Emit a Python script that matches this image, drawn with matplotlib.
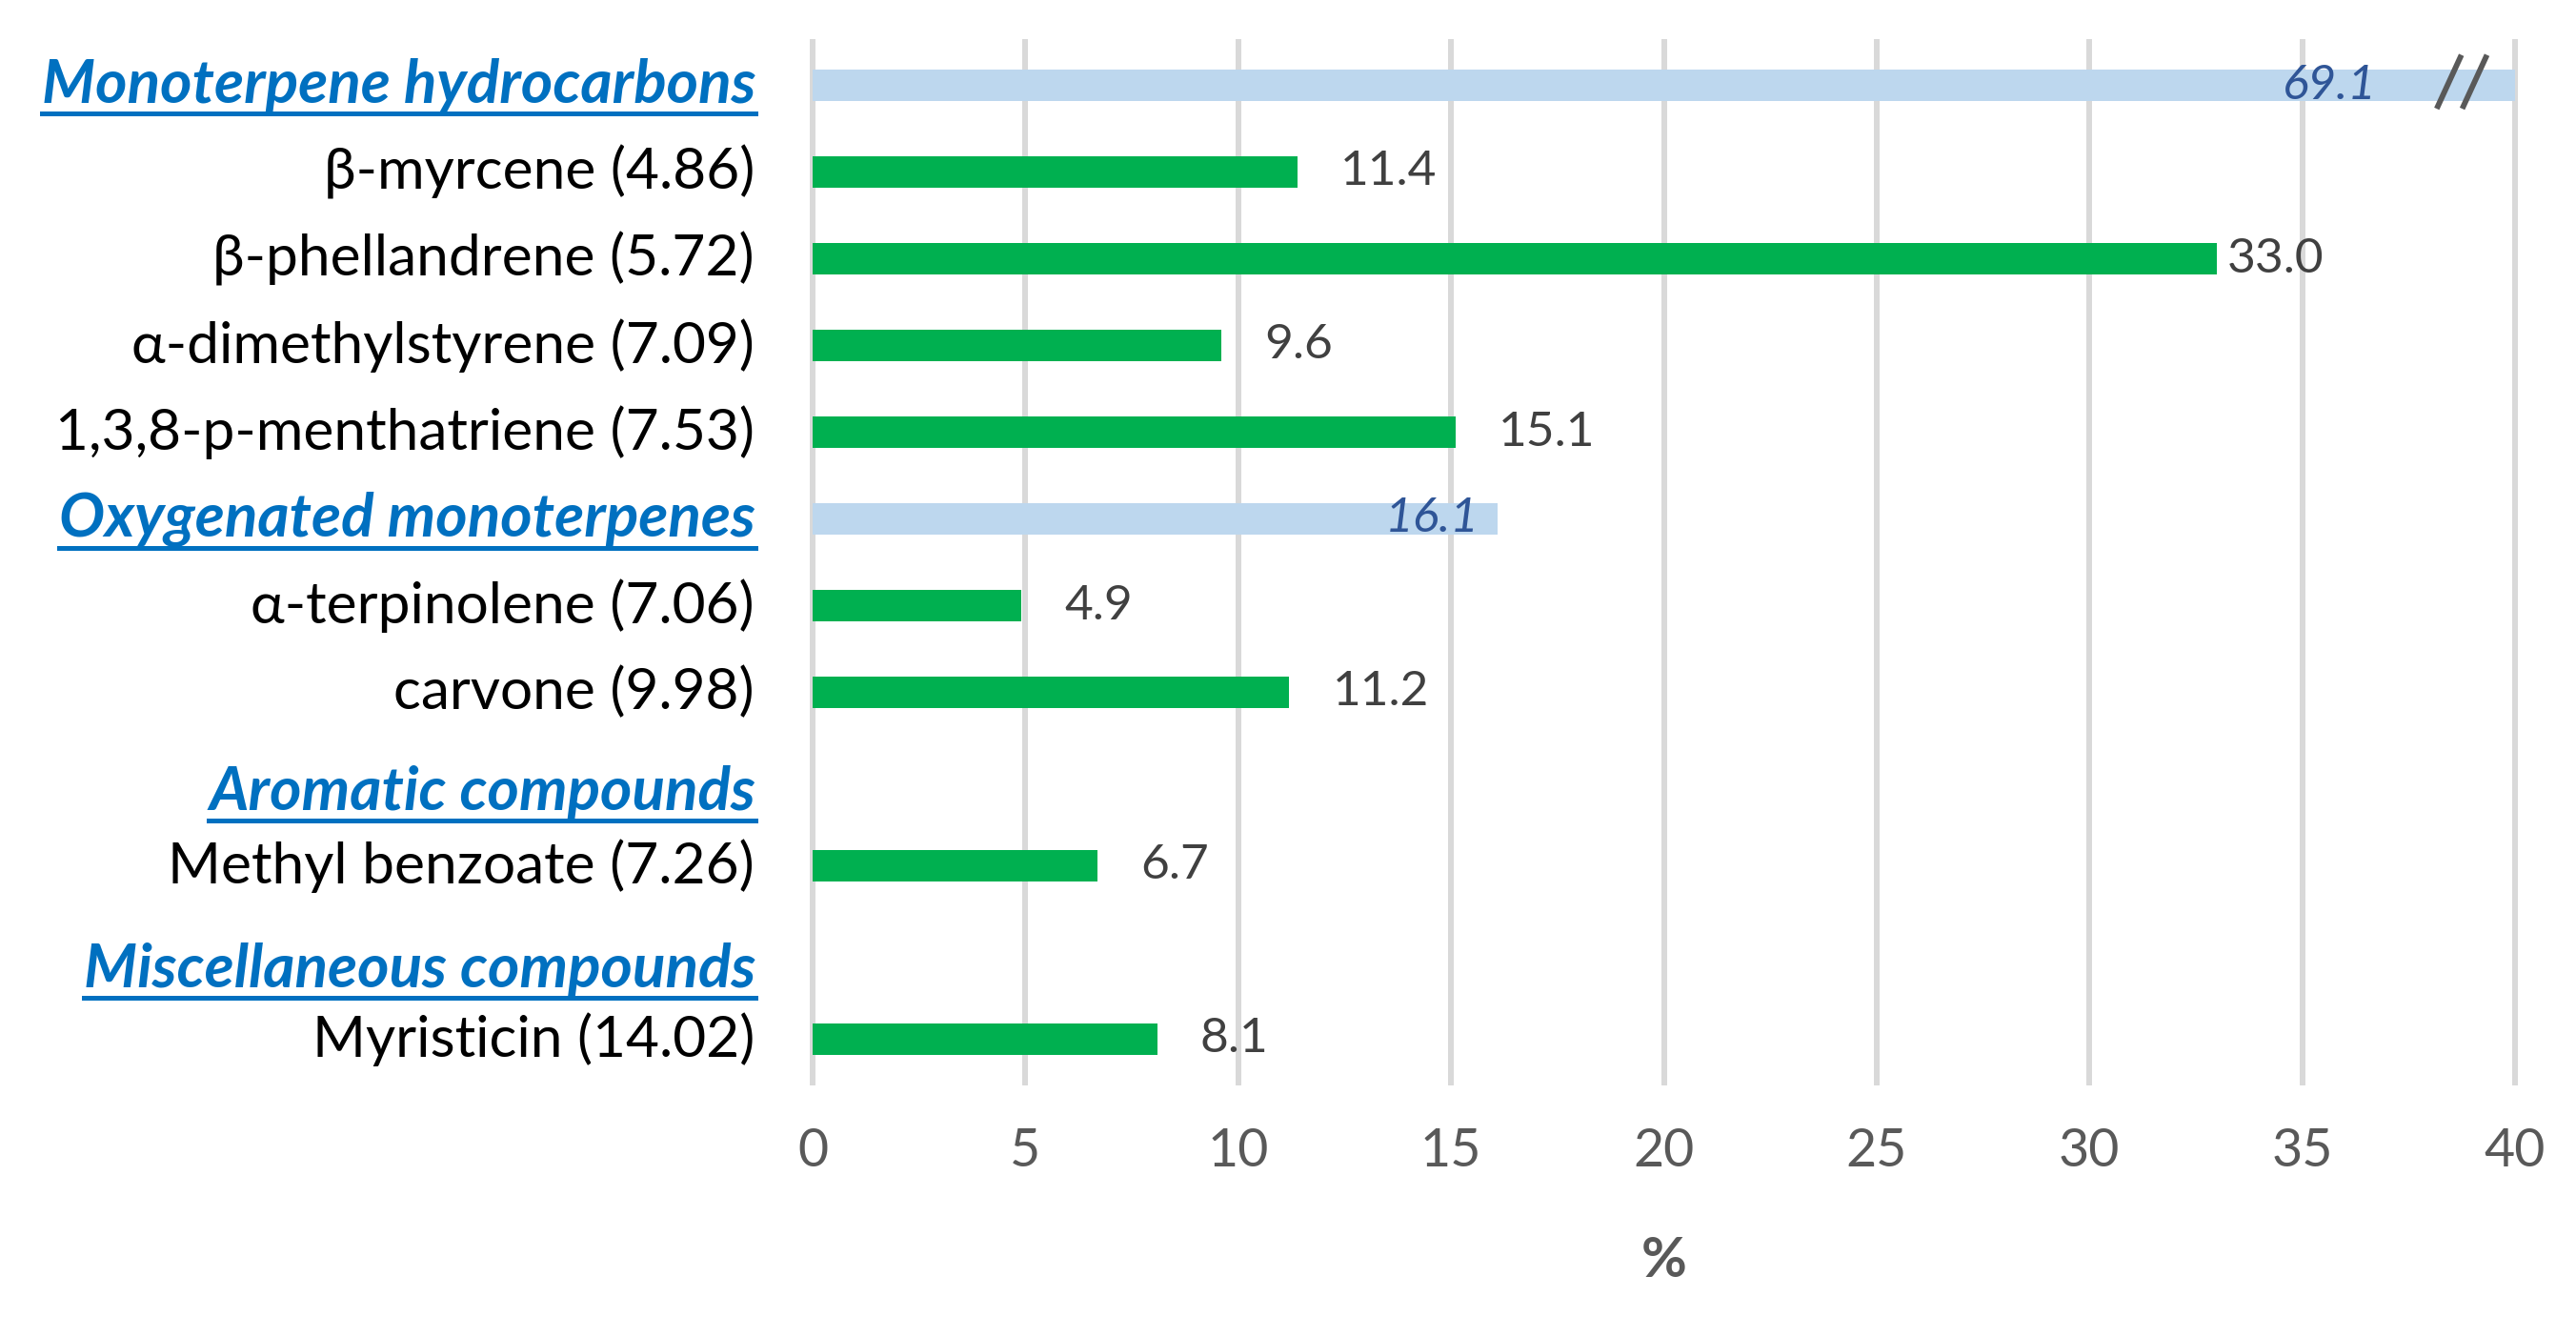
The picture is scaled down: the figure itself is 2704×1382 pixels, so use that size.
import numpy as np
import matplotlib
matplotlib.use("Agg")
import matplotlib.pyplot as plt
from matplotlib.lines import Line2D

# chart data (top to bottom)
categories = [
    "Monoterpene hydrocarbons", "β-myrcene (4.86)", "β-phellandrene (5.72)",
    "α-dimethylstyrene (7.09)", "1,3,8-p-menthatriene (7.53)",
    "Oxygenated monoterpenes", "α-terpinolene (7.06)", "carvone (9.98)",
    "Aromatic compounds", "Methyl benzoate (7.26)",
    "Miscellaneous compounds", "Myristicin (14.02)",
]
values = [69.1, 11.4, 33.0, 9.6, 15.1, 16.1, 4.9, 11.2, np.nan, 6.7, np.nan, 8.1]
is_group = [True, False, False, False, False, True, False, False, True, False, True, False]
x_ticks = [0, 5, 10, 15, 20, 25, 30, 35, 40]

# styling
GREEN = "#00B050"
LIGHT = "#BDD7EE"
GROUP_TXT = "#0070C0"
GROUP_VAL = "#2F5597"
GRID = "#D9D9D9"
TICK = "#595959"
VAL = "#404040"
XMAX = 40
BREAK_AT = 38.75
label_gap = {2: 10}          # px gap between bar end and value label (default 45)
group_label_shift = {8: -14, 10: -18}   # px vertical nudge of some group headers

plt.rcParams["font.family"] = ["Lato", "DejaVu Sans"]

W, H, DPI = 2704, 1382, 100
fig = plt.figure(figsize=(W / DPI, H / DPI), dpi=DPI)
ax = fig.add_axes([853 / W, 1 - 1136 / H, (2640 - 853) / W, (1136 - 44) / H])

y = np.arange(len(categories))
vals = np.array(values, dtype=float)
colors = [LIGHT if g else GREEN for g in is_group]
ax.barh(y, np.nan_to_num(vals), height=0.37, color=colors, zorder=2)

ax.set_xlim(0, XMAX)
ax.set_ylim(len(categories) - 0.5, -0.5)
ax.set_xticks(x_ticks)
ax.set_xticklabels([str(t) for t in x_ticks], fontsize=40, color=TICK)
ax.tick_params(axis="x", length=0, pad=34)
ax.set_yticks([])
for s in ax.spines.values():
    s.set_visible(False)
ax.grid(axis="x", color=GRID, linewidth=4.3, zorder=0)
ax.set_axisbelow(True)
for gl in ax.get_xgridlines():
    gl.set_clip_on(False)

ax.set_xlabel("%", fontsize=42, fontweight="bold", color=TICK, va="center")
ax.xaxis.set_label_coords(0.5, -(1323 - 1136) / (1136 - 44))

# category labels
group_texts = []
for i, (name, g) in enumerate(zip(categories, is_group)):
    dy = group_label_shift.get(i, 0) * 72 / DPI
    if g:
        t = ax.annotate(name, xy=(0, i), xycoords=("axes fraction", "data"),
                        xytext=(-60 * 72 / DPI, dy), textcoords="offset points",
                        ha="right", va="center", fontsize=46, fontweight="bold",
                        fontstyle="italic", color=GROUP_TXT)
        group_texts.append(t)
    else:
        ax.annotate(name, xy=(0, i), xycoords=("axes fraction", "data"),
                    xytext=(-61 * 72 / DPI, 0), textcoords="offset points",
                    ha="right", va="center", fontsize=43.5, color="black")

# value labels
for i, (v, g) in enumerate(zip(vals, is_group)):
    if np.isnan(v):
        continue
    if g:
        xr = BREAK_AT - 2.0 if v > XMAX else v - 0.45
        ax.text(xr, i, f"{v:.1f}", ha="right", va="center", fontsize=37,
                fontstyle="italic", color=GROUP_VAL, zorder=3)
    else:
        gap = label_gap.get(i, 45) * 72 / DPI
        ax.annotate(f"{v:.1f}", xy=(v, i), xytext=(gap, 0), textcoords="offset points",
                    ha="left", va="center", fontsize=37, color=VAL)

# axis break marks on the clipped bar
for i, v in enumerate(vals):
    if v > XMAX:
        for dx in (-0.3, 0.3):
            xc = BREAK_AT + dx
            ax.plot([xc - 0.29, xc + 0.29], [i + 0.27, i - 0.35], color=TICK,
                    linewidth=4.2, solid_capstyle="butt", zorder=4, clip_on=False)

# underline the group headers
fig.canvas.draw()
r = fig.canvas.get_renderer()
for t in group_texts:
    bb = t.get_window_extent(r)
    yl = bb.y0 - 1
    fig.add_artist(Line2D([bb.x0 / W, bb.x1 / W], [yl / H, yl / H],
                          color=GROUP_TXT, linewidth=3.6))

fig.savefig("out.png", dpi=DPI, facecolor="white")
